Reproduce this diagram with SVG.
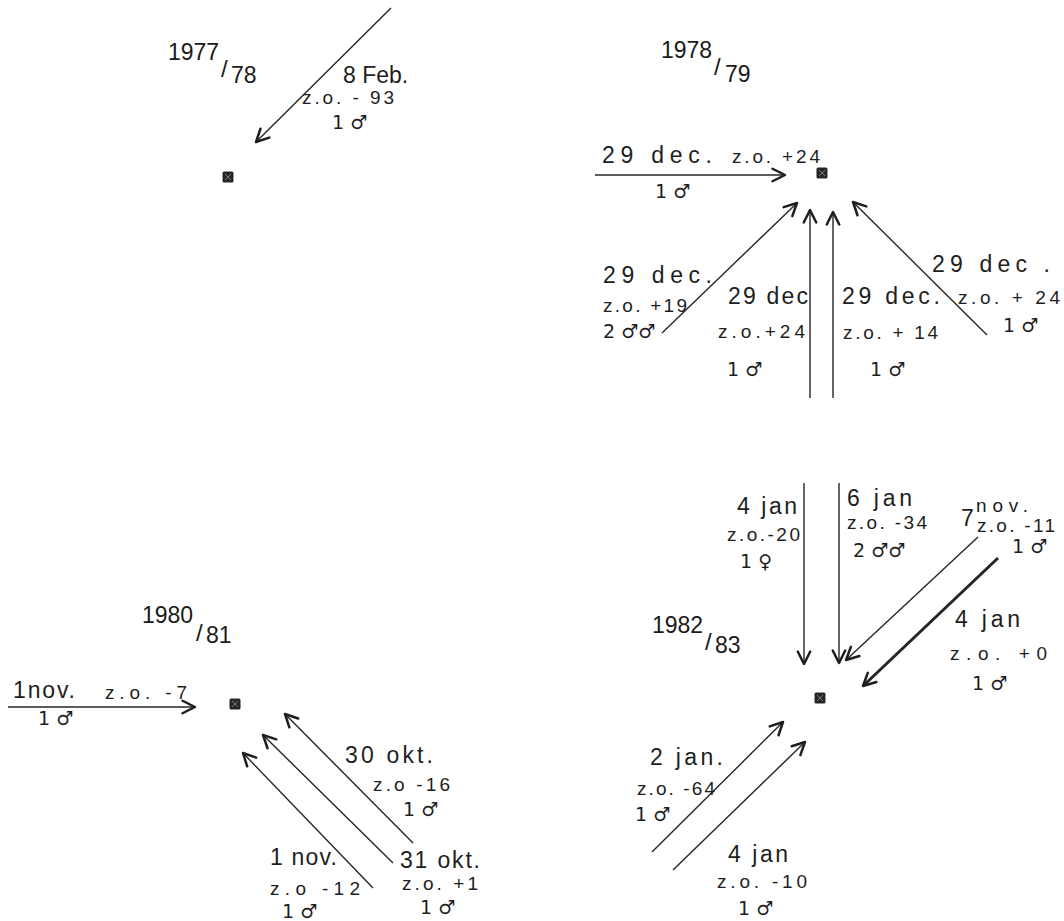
<svg xmlns="http://www.w3.org/2000/svg" width="1064" height="921" viewBox="0 0 1064 921">
<style>
  .title{font-family:"Liberation Sans","DejaVu Sans",sans-serif;font-size:23px;fill:#1a1a1a}
  .slash{font-family:"Liberation Sans","DejaVu Sans",sans-serif;font-size:24px;fill:#1a1a1a}
  .lbl{font-family:"Liberation Sans","DejaVu Sans",sans-serif;font-size:23px;fill:#1e1e1e}
  .zo{font-family:"Liberation Sans","DejaVu Sans",sans-serif;font-size:19px;fill:#1e1e1e}
  .sx{font-family:"DejaVu Sans","Liberation Sans",sans-serif;font-size:19px;fill:#1e1e1e}
  .ln{stroke:#262626;stroke-width:1.4;fill:none;marker-end:url(#ah)}
  .thick{stroke-width:3}
</style>
<defs>
  <marker id="ah" markerUnits="userSpaceOnUse" markerWidth="20" markerHeight="20" refX="0" refY="0" viewBox="-12 -8 14 16" orient="auto">
    <path d="M-10,-5 L0,0 L-10,5" stroke="#1e1e1e" stroke-width="2" fill="none" stroke-linecap="round" stroke-linejoin="round"/>
  </marker>
  <g id="mark">
    <rect x="-5.5" y="-5.5" width="11" height="11" rx="1.5" fill="#262626"/>
    <path d="M-3,-3 L3,3 M3,-3 L-3,3" stroke="#7a7a7a" stroke-width="1"/>
  </g>
</defs>
<rect width="1064" height="921" fill="#ffffff"/>

<!-- titles -->
<g id="title-1977">
  <text class="title" x="168" y="60">1977</text>
  <text class="slash" x="221" y="77">/</text>
  <text class="title" x="231" y="83">78</text>
</g>
<g id="title-1978">
  <text class="title" x="661" y="58">1978</text>
  <text class="slash" x="714" y="75">/</text>
  <text class="title" x="725" y="82">79</text>
</g>
<g id="title-1980">
  <text class="title" x="142" y="623">1980</text>
  <text class="slash" x="196" y="641">/</text>
  <text class="title" x="206" y="643">81</text>
</g>
<g id="title-1982">
  <text class="title" x="652" y="633">1982</text>
  <text class="slash" x="705" y="650">/</text>
  <text class="title" x="715" y="653">83</text>
</g>

<!-- nodes -->
<g id="node-1977"><use href="#mark" x="228" y="177"/></g>
<g id="node-1978"><use href="#mark" x="822" y="173"/></g>
<g id="node-1980"><use href="#mark" x="235" y="704"/></g>
<g id="node-1982"><use href="#mark" x="820" y="698"/></g>

<!-- connectors -->
<g id="connectors">
  <line class="ln" x1="391" y1="8" x2="256" y2="142"/>
  <line class="ln" x1="595" y1="175" x2="785" y2="175"/>
  <line class="ln" x1="662" y1="333" x2="797" y2="203"/>
  <line class="ln" x1="810" y1="398" x2="810" y2="210"/>
  <line class="ln" x1="833" y1="398" x2="833" y2="212"/>
  <line class="ln" x1="987" y1="335" x2="853" y2="202"/>
  <line class="ln" x1="804" y1="483" x2="804" y2="664"/>
  <line class="ln" x1="839" y1="483" x2="839" y2="663"/>
  <line class="ln" x1="978" y1="537" x2="846" y2="660"/>
  <line class="ln thick" x1="998" y1="558" x2="863" y2="686"/>
  <line class="ln" x1="652" y1="852" x2="783" y2="722"/>
  <line class="ln" x1="673" y1="870" x2="805" y2="742"/>
  <line class="ln" x1="8" y1="707" x2="195" y2="707"/>
  <line class="ln" x1="413" y1="843" x2="285" y2="714"/>
  <line class="ln" x1="393" y1="863" x2="263" y2="735"/>
  <line class="ln" x1="373" y1="888" x2="243" y2="753"/>
</g>

<!-- labels 1977/78 -->
<g id="lbl-8feb">
  <text class="lbl" x="343" y="83" font-size="21">8 Feb.</text>
  <text class="zo" x="302" y="104" textLength="92">z.o. - 93</text>
  <text class="sx" x="332" y="129">1 ♂</text>
</g>

<!-- labels 1978/79 -->
<g id="lbl-29dec-a">
  <text class="lbl" x="602" y="163" textLength="110">29 dec.</text>
  <text class="zo" x="732" y="163" textLength="88">z.o. +24</text>
  <text class="sx" x="655" y="198">1 ♂</text>
</g>
<g id="lbl-29dec-b">
  <text class="lbl" x="603" y="283" textLength="109">29 dec.</text>
  <text class="zo" x="603" y="312" textLength="84">z.o. +19</text>
  <text class="sx" x="603" y="338">2 ♂♂</text>
</g>
<g id="lbl-29dec-c">
  <text class="lbl" x="728" y="304" textLength="80">29 dec</text>
  <text class="zo" x="718" y="338" textLength="87">z.o.+24</text>
  <text class="sx" x="727" y="376">1 ♂</text>
</g>
<g id="lbl-29dec-d">
  <text class="lbl" x="842" y="304" textLength="98">29 dec.</text>
  <text class="zo" x="843" y="339" textLength="95">z.o. + 14</text>
  <text class="sx" x="870" y="376">1 ♂</text>
</g>
<g id="lbl-29dec-e">
  <text class="lbl" x="932" y="272" textLength="118">29 dec .</text>
  <text class="zo" x="958" y="304" textLength="102">z.o. + 24</text>
  <text class="sx" x="1003" y="332">1 ♂</text>
</g>

<!-- labels 1982/83 -->
<g id="lbl-4jan-a">
  <text class="lbl" x="737" y="514" textLength="60">4 jan</text>
  <text class="zo" x="727" y="541" textLength="73">z.o.-20</text>
  <text class="sx" x="740" y="568">1 ♀</text>
</g>
<g id="lbl-6jan">
  <text class="lbl" x="847" y="506" font-size="21" textLength="65">6 jan</text>
  <text class="zo" x="847" y="529" textLength="80">z.o. -34</text>
  <text class="sx" x="853" y="557">2 ♂♂</text>
</g>
<g id="lbl-7nov">
  <text class="lbl" x="961" y="526">7</text>
  <text class="zo" x="976" y="512" font-size="15" textLength="52">nov.</text>
  <text class="zo" x="977" y="532" textLength="78">z.o. -11</text>
  <text class="sx" x="1012" y="553">1 ♂</text>
</g>
<g id="lbl-4jan-b">
  <text class="lbl" x="955" y="627" textLength="65">4 jan</text>
  <text class="zo" x="950" y="660" textLength="97">z.o. +0</text>
  <text class="sx" x="972" y="690">1 ♂</text>
</g>
<g id="lbl-2jan">
  <text class="lbl" x="650" y="765" textLength="73">2 jan.</text>
  <text class="zo" x="637" y="795" textLength="78">z.o. -64</text>
  <text class="sx" x="635" y="821">1 ♂</text>
</g>
<g id="lbl-4jan-c">
  <text class="lbl" x="728" y="862" textLength="60">4 jan</text>
  <text class="zo" x="717" y="888" textLength="90">z.o. -10</text>
  <text class="sx" x="738" y="915">1 ♂</text>
</g>

<!-- labels 1980/81 -->
<g id="lbl-1nov-a">
  <text class="lbl" x="13" y="698" textLength="62">1nov.</text>
  <text class="zo" x="105" y="699" textLength="82">z.o. -7</text>
  <text class="sx" x="38" y="725">1 ♂</text>
</g>
<g id="lbl-30okt">
  <text class="lbl" x="345" y="763" textLength="88">30 okt.</text>
  <text class="zo" x="373" y="791" textLength="77">z.o -16</text>
  <text class="sx" x="403" y="816">1 ♂</text>
</g>
<g id="lbl-31okt">
  <text class="lbl" x="400" y="868" textLength="80">31 okt.</text>
  <text class="zo" x="402" y="890" textLength="76">z.o. +1</text>
  <text class="sx" x="420" y="914">1 ♂</text>
</g>
<g id="lbl-1nov-b">
  <text class="lbl" x="270" y="865" textLength="67">1 nov.</text>
  <text class="zo" x="270" y="895" textLength="90">z.o -12</text>
  <text class="sx" x="282" y="918">1 ♂</text>
</g>
</svg>
